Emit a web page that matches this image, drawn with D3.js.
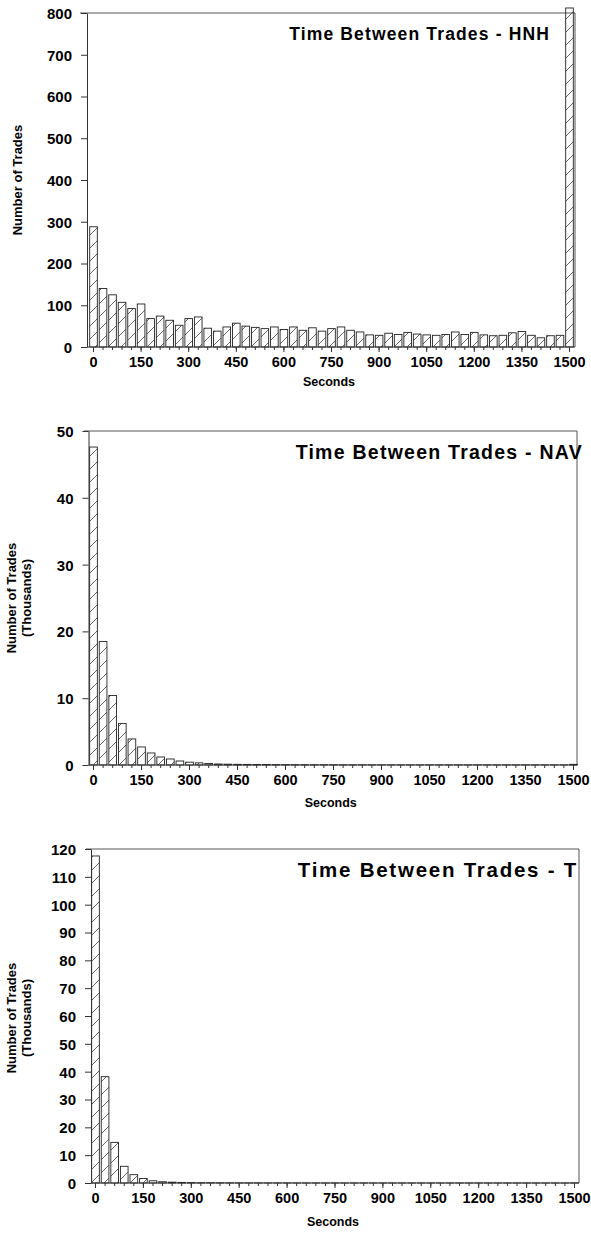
<!DOCTYPE html>
<html>
<head>
<meta charset="utf-8">
<script src="https://cdn.jsdelivr.net/npm/d3@7"></script>
<style>
  body { margin: 0; background: #fff; }
  svg text { font-family: "Liberation Sans", Arial, Helvetica, sans-serif; font-weight: bold; fill: #000; }
</style>
</head>
<body>
<svg id="chart" width="591" height="1234"></svg>
<script>
// Histogram bins: seconds between consecutive trades (30-second bins, last bin = 1500+)
const seconds = [0, 30, 60, 90, 120, 150, 180, 210, 240, 270, 300, 330, 360, 390, 420, 450, 480,
  510, 540, 570, 600, 630, 660, 690, 720, 750, 780, 810, 840, 870, 900, 930, 960, 990, 1020,
  1050, 1080, 1110, 1140, 1170, 1200, 1230, 1260, 1290, 1320, 1350, 1380, 1410, 1440, 1470, 1500];
const secondLabels = [0, 150, 300, 450, 600, 750, 900, 1050, 1200, 1350, 1500];

// HNH: number of trades per bin
const hnhTrades = [288, 140, 125, 107, 92, 103, 68, 74, 64, 52, 68, 72, 45, 38, 48, 57, 50,
  47, 44, 48, 42, 48, 40, 46, 38, 44, 48, 40, 36, 29, 28, 33, 30, 35, 31,
  29, 28, 30, 36, 30, 35, 29, 27, 28, 34, 37, 28, 22, 27, 28, 812];
const hnhTicks = [0, 100, 200, 300, 400, 500, 600, 700, 800];

// NAV: number of trades per bin, thousands
const navTrades = [47.6, 18.5, 10.4, 6.2, 3.9, 2.7, 1.8, 1.2, 0.9, 0.6, 0.42, 0.32, 0.22, 0.15, 0.12, 0.1, 0.09,
  0.08, 0.07, 0.06, 0.06, 0.05, 0.05, 0.04, 0.04, 0.04, 0.03, 0.03, 0.03, 0.03, 0.02, 0.02, 0.02, 0.02, 0.02,
  0.02, 0.02, 0.02, 0.02, 0.02, 0.02, 0.02, 0.02, 0.02, 0.02, 0.02, 0.02, 0.02, 0.02, 0.02, 0.1];
const navTicks = [0, 10, 20, 30, 40, 50];

// T: number of trades per bin, thousands
const tTrades = [117.5, 38.2, 14.6, 6.0, 3.0, 1.6, 0.8, 0.45, 0.3, 0.22, 0.16, 0.12, 0.1, 0.08, 0.07, 0.06, 0.05,
  0.05, 0.04, 0.04, 0.04, 0.03, 0.03, 0.03, 0.03, 0.03, 0.02, 0.02, 0.02, 0.02, 0.02, 0.02, 0.02, 0.02, 0.02,
  0.02, 0.02, 0.02, 0.02, 0.02, 0.02, 0.02, 0.02, 0.02, 0.02, 0.02, 0.02, 0.02, 0.02, 0.02, 0.05];
const tTicks = [0, 10, 20, 30, 40, 50, 60, 70, 80, 90, 100, 110, 120];

const svg = d3.select("#chart");

// diagonal hatch used inside every bar
const defs = svg.append("defs");
defs.append("pattern")
  .attr("id", "hatch")
  .attr("patternUnits", "userSpaceOnUse")
  .attr("width", 13).attr("height", 13)
  .append("path")
  .attr("d", "M-1,1 L1,-1 M0,13 L13,0 M12,14 L14,12")
  .attr("stroke", "#444").attr("stroke-width", 0.8);

const panels = [
  { values: hnhTrades, ticks: hnhTicks, yMax: 800, top: 13, bottom: 347,
    axisX: 87, firstCenter: 93.5, step: 9.52, right: 575, frameStart: 80,
    title: "Time Between Trades - HNH", titleRight: 550, titleBase: 40, titleSize: 17.5, titleSpacing: 1.15,
    yTitle: ["Number of Trades"], yTitleX: [22], yTitleY: 180, xTitleBase: 386 },
  { values: navTrades, ticks: navTicks, yMax: 50, top: 431, bottom: 765,
    axisX: 88.5, firstCenter: 93.5, step: 9.6, right: 577, frameStart: 84,
    title: "Time Between Trades - NAV", titleRight: 583, titleBase: 459, titleSize: 19.5, titleSpacing: 1.25,
    yTitle: ["Number of Trades", "(Thousands)"], yTitleX: [16, 31], yTitleY: 598, xTitleBase: 807 },
  { values: tTrades, ticks: tTicks, yMax: 120, top: 849, bottom: 1183,
    axisX: 91, firstCenter: 95.5, step: 9.58, right: 579, frameStart: 86,
    title: "Time Between Trades - T", titleRight: 578, titleBase: 877, titleSize: 20.5, titleSpacing: 1.75,
    yTitle: ["Number of Trades", "(Thousands)"], yTitleX: [16, 31], yTitleY: 1018, xTitleBase: 1226 }
];

panels.forEach(p => {
  const g = svg.append("g");
  const n = seconds.length;
  const x0 = p.firstCenter - p.step / 2;
  const x = d3.scaleBand()
    .domain(seconds)
    .range([x0, x0 + n * p.step])
    .paddingInner(0.2)
    .paddingOuter(0.1);
  const y = d3.scaleLinear().domain([0, p.yMax]).range([p.bottom, p.top]);

  // plot-area frame (top and right edges)
  g.append("path")
    .attr("d", `M${p.frameStart},${p.top}H${p.right}V${p.bottom}`)
    .attr("fill", "none").attr("stroke", "#555").attr("stroke-width", 1);

  // bars
  g.append("g").selectAll("rect")
    .data(seconds)
    .join("rect")
    .attr("x", (d) => x(d))
    .attr("width", x.bandwidth())
    .attr("y", (d, i) => y(p.values[i]))
    .attr("height", (d, i) => p.bottom - y(p.values[i]))
    .attr("fill", "url(#hatch)")
    .attr("stroke", "#222")
    .attr("stroke-width", 0.9);

  // y axis
  const ya = g.append("g")
    .attr("transform", `translate(${p.axisX},0)`)
    .call(d3.axisLeft(y).tickValues(p.ticks).tickSize(6).tickSizeOuter(0).tickPadding(9));
  ya.select(".domain").attr("stroke", "#333");
  ya.selectAll(".tick line").attr("stroke", "#333");
  ya.selectAll("text").style("font-size", "15px").attr("dy", "0.36em");

  // x axis: minor ticks on every bin, labels every fifth bin
  const xm = g.append("g")
    .attr("transform", `translate(0,${p.bottom})`)
    .call(d3.axisBottom(x).tickValues(seconds).tickSize(3).tickFormat(""));
  xm.select(".domain").remove();
  xm.selectAll(".tick line").attr("stroke", "#333");

  const xa = g.append("g")
    .attr("transform", `translate(0,${p.bottom})`)
    .call(d3.axisBottom(x).tickValues(secondLabels).tickSize(5).tickPadding(5));
  xa.select(".domain").remove();
  xa.selectAll(".tick line").attr("stroke", "#333");
  xa.selectAll("text").style("font-size", "14.5px");

  g.append("line")
    .attr("x1", p.axisX).attr("x2", p.right)
    .attr("y1", p.bottom).attr("y2", p.bottom)
    .attr("stroke", "#333");

  // titles
  g.append("text")
    .attr("x", p.titleRight).attr("y", p.titleBase)
    .attr("text-anchor", "end")
    .style("font-size", p.titleSize + "px")
    .style("letter-spacing", p.titleSpacing + "px")
    .text(p.title);

  g.append("text")
    .attr("x", (p.axisX + p.right) / 2 - 2).attr("y", p.xTitleBase)
    .attr("text-anchor", "middle")
    .style("font-size", "12.5px")
    .text("Seconds");

  p.yTitle.forEach((t, i) => {
    g.append("text")
      .attr("transform", `translate(${p.yTitleX[i]},${p.yTitleY}) rotate(-90)`)
      .attr("text-anchor", "middle")
      .style("font-size", "13px")
      .text(t);
  });
});
</script>
</body>
</html>
